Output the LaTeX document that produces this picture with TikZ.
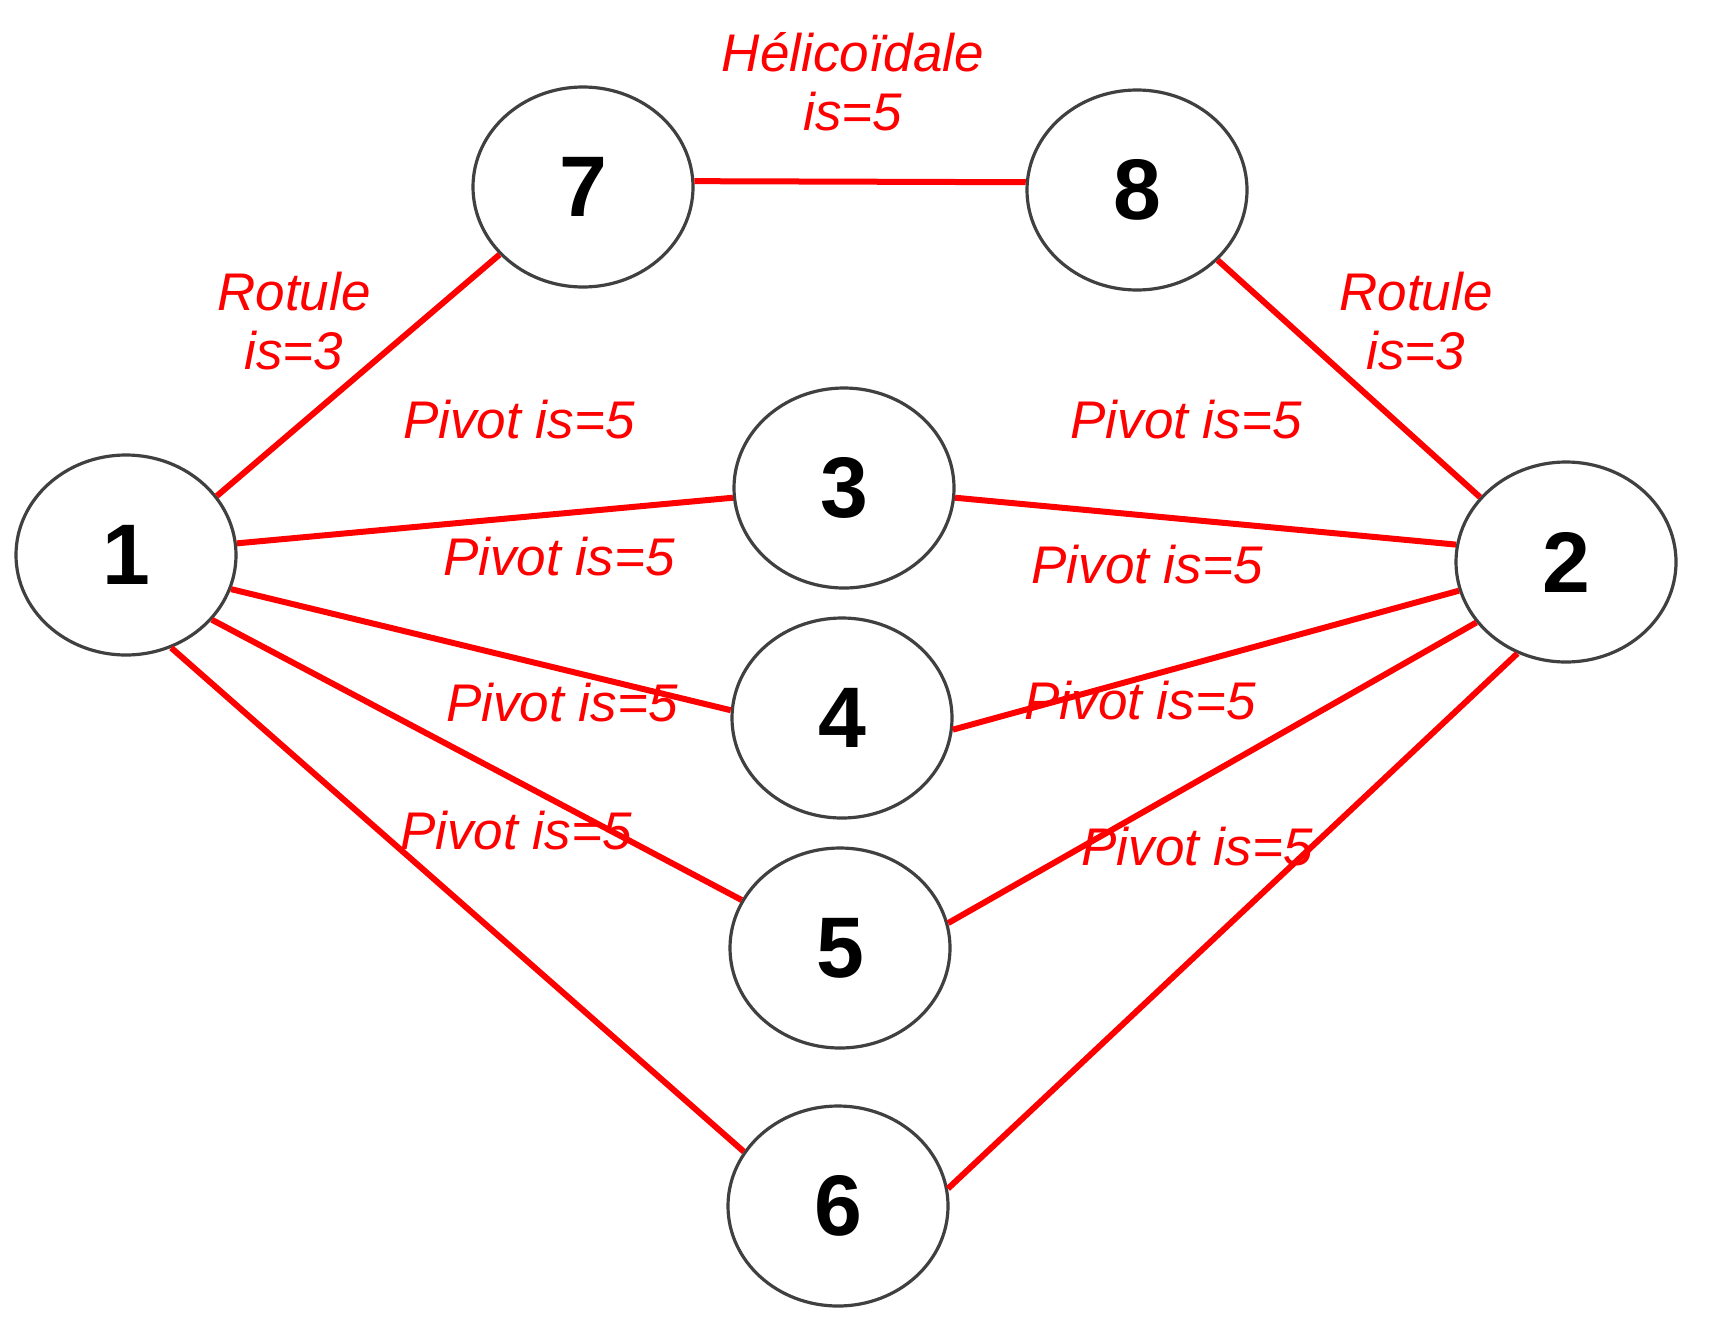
\documentclass[tikz,border=0pt]{standalone}
\usepackage{fontspec}
\setmainfont{Liberation Sans}
\usetikzlibrary{shapes.geometric}
\begin{document}
\begin{tikzpicture}[x=1pt,y=-1pt,
  part/.style={ellipse,draw=black!75,line width=3.2pt,minimum width=220pt,minimum height=200pt,inner sep=0pt,font=\bfseries\fontsize{86}{86}\selectfont},
  link/.style={draw=red,line width=6pt},
  lbl/.style={text=red,font=\itshape\fontsize{53}{59}\selectfont,align=center,inner sep=0pt}]
\useasboundingbox[fill=white] (0,0) rectangle (1728,1336);
\node[part] (n1) at (126,555) {1};
\node[part] (n2) at (1566,562) {2};
\node[part] (n3) at (844,488) {3};
\node[part] (n4) at (842,718) {4};
\node[part] (n5) at (840,948) {5};
\node[part] (n6) at (838,1206) {6};
\node[part] (n7) at (583,187) {7};
\node[part] (n8) at (1137,190) {8};
\draw[link] (n1.33) -- (n7.219);
\draw[link] (n7.3) -- (n8.176);
\draw[link] (n8.-41) -- (n2.143);
\draw[link] (n1.6) -- (n3.185);
\draw[link] (n3.-5) -- (n2.171);
\draw[link] (n1.-18) -- (n4.176);
\draw[link] (n4.-6) -- (n2.195);
\draw[link] (n1.-37) -- (n5.154);
\draw[link] (n5.13) -- (n2.214);
\draw[link] (n1.-64) -- (n6.150);
\draw[link] (n6.9) -- (n2.242);
\node[lbl] (lh) at (853,82) {Hélicoïdale\\is=5};
\node[lbl] (lr1) at (294,321) {Rotule\\is=3};
\node[lbl] (lr2) at (1416,321) {Rotule\\is=3};
\node[lbl] (p1) at (519,420) {Pivot is=5};
\node[lbl] (p2) at (1186,420) {Pivot is=5};
\node[lbl] (p3) at (559,557) {Pivot is=5};
\node[lbl] (p4) at (1147,565) {Pivot is=5};
\node[lbl] (p5) at (562,703) {Pivot is=5};
\node[lbl] (p6) at (1140,701) {Pivot is=5};
\node[lbl] (p7) at (516,831) {Pivot is=5};
\node[lbl] (p8) at (1197,847) {Pivot is=5};
\end{tikzpicture}
\end{document}
